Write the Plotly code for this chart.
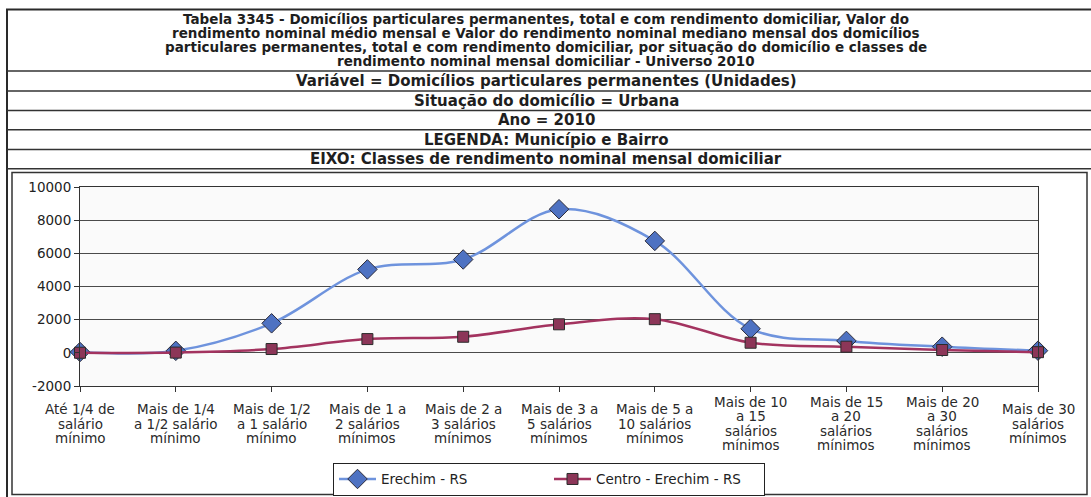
import plotly.graph_objects as go

# Income classes (tick labels, one entry per category, lines split by "\n")
classes = [
    "Até 1/4 de\nsalário\nmínimo",
    "Mais de 1/4\na 1/2 salário\nmínimo",
    "Mais de 1/2\na 1 salário\nmínimo",
    "Mais de 1 a\n2 salários\nmínimos",
    "Mais de 2 a\n3 salários\nmínimos",
    "Mais de 3 a\n5 salários\nmínimos",
    "Mais de 5 a\n10 salários\nmínimos",
    "Mais de 10\na 15\nsalários\nmínimos",
    "Mais de 15\na 20\nsalários\nmínimos",
    "Mais de 20\na 30\nsalários\nmínimos",
    "Mais de 30\nsalários\nmínimos",
]

# Permanent private households (units), urban, 2010
erechim = [50, 120, 1780, 5030, 5630, 8660, 6750, 1450, 720, 370, 130]
centro = [5, 15, 230, 830, 970, 1720, 2030, 610, 370, 170, 40]

y_ticks = [-2000, 0, 2000, 4000, 6000, 8000, 10000]

title_lines = [
    "Tabela 3345 - Domicílios particulares permanentes, total e com rendimento domiciliar, Valor do",
    "rendimento nominal médio mensal e Valor do rendimento nominal mediano mensal dos domicílios",
    "particulares permanentes, total e com rendimento domiciliar, por situação do domicílio e classes de",
    "rendimento nominal mensal domiciliar - Universo 2010",
]
header_rows = [
    "Variável = Domicílios particulares permanentes (Unidades)",
    "Situação do domicílio = Urbana",
    "Ano = 2010",
    "LEGENDA: Município e Bairro",
    "EIXO: Classes de rendimento nominal mensal domiciliar",
]

series_names = ["Erechim - RS", "Centro - Erechim - RS"]

# ---- page geometry (pixels) ----
W, H = 1091, 497
PL, PR, PT, PB = 80, 1038, 187, 386


def px_x(x):
    return (x - PL) / (PR - PL)


def px_y(y):
    return (PB - y) / (PB - PT)


categories = [c.replace("\n", " ") for c in classes]

fig = go.Figure()
fig.add_trace(go.Scatter(
    x=categories, y=erechim, name=series_names[0], mode="lines+markers",
    line=dict(color="#6E93DD", width=2.5, shape="spline", smoothing=1),
    marker=dict(symbol="diamond", size=15, color="#4E72C2",
                line=dict(color="#2B2B3A", width=1)),
    cliponaxis=False,
))
fig.add_trace(go.Scatter(
    x=categories, y=centro, name=series_names[1], mode="lines+markers",
    line=dict(color="#A3335F", width=2.5, shape="spline", smoothing=1),
    marker=dict(symbol="square", size=11, color="#8C3658",
                line=dict(color="#2B2B2B", width=1)),
    cliponaxis=False,
))

shapes = []
ink = "#2A2A2A"
# outer frame of the table
shapes.append(dict(type="rect", xref="paper", yref="paper",
                   x0=px_x(7), x1=px_x(1093), y0=px_y(9.5), y1=px_y(499),
                   line=dict(color=ink, width=2)))
# header row separators
separators = [71, 91, 110.5, 129.7, 149.5, 168.7]
for s in separators:
    shapes.append(dict(type="line", xref="paper", yref="paper",
                       x0=px_x(7), x1=px_x(1093), y0=px_y(s), y1=px_y(s),
                       line=dict(color="#333333", width=1.5)))
# chart box
shapes.append(dict(type="rect", xref="paper", yref="paper",
                   x0=px_x(12), x1=px_x(1087), y0=px_y(172.5), y1=px_y(494.5),
                   line=dict(color="#333333", width=1.5)))

annotations = []
title_font = dict(family="DejaVu Sans", size=13.5, color="#1E1E1E", weight="bold")
row_font = dict(family="DejaVu Sans", size=15, color="#1E1E1E", weight="bold")
for i, t in enumerate(title_lines):
    annotations.append(dict(text=t, xref="paper", yref="paper",
                            x=px_x(546), y=px_y(18.5 + i * 14.2),
                            xanchor="center", yanchor="middle",
                            showarrow=False, font=title_font))
for i, t in enumerate(header_rows):
    yc = (separators[i] + separators[i + 1]) / 2
    annotations.append(dict(text=t, xref="paper", yref="paper",
                            x=px_x(546), y=px_y(yc),
                            xanchor="center", yanchor="middle",
                            showarrow=False, font=row_font))

# category labels, each block centred vertically under its tick
tick_font = dict(family="DejaVu Sans", size=13.5, color="#2A2A2A")
for i, lab in enumerate(classes):
    lines = lab.split("\n")
    n = len(lines)
    for j, ln in enumerate(lines):
        yc = 423.6 + (j - (n - 1) / 2) * 14.5
        annotations.append(dict(text=ln, xref="x", yref="paper",
                                x=i, y=px_y(yc),
                                xanchor="center", yanchor="middle",
                                showarrow=False, font=tick_font))

fig.update_layout(
    width=W, height=H,
    margin=dict(l=PL, r=W - PR, t=PT, b=H - PB, pad=0, autoexpand=False),
    paper_bgcolor="white",
    plot_bgcolor="#FAFAFA",
    font=dict(family="DejaVu Sans", size=13.5, color="#222222"),
    shapes=shapes,
    annotations=annotations,
    showlegend=True,
    legend=dict(
        orientation="h", x=px_x(333), y=px_y(462.7),
        xanchor="left", yanchor="top",
        bordercolor="#222222", borderwidth=1, bgcolor="white",
        font=dict(family="DejaVu Sans", size=13.5, color="#222222"),
        entrywidth=163, entrywidthmode="pixels",
        itemwidth=37,
    ),
    xaxis=dict(
        type="category", range=[0, len(categories) - 1],
        showticklabels=False, showgrid=False, zeroline=False,
        ticks="outside", ticklen=5, tickcolor="#333333",
        showline=True, linecolor="#333333", linewidth=1, mirror=True,
        fixedrange=True,
    ),
    yaxis=dict(
        range=[-2000, 10000], tickvals=y_ticks,
        ticktext=[str(v) for v in y_ticks],
        ticks="outside", ticklen=5, tickcolor="#333333",
        showgrid=True, gridcolor="#4A4A4A", gridwidth=1, zeroline=False,
        showline=True, linecolor="#333333", linewidth=1, mirror=True,
        tickfont=dict(family="DejaVu Sans", size=13.5, color="#222222"),
        fixedrange=True,
    ),
)

fig.write_html("out.html")
